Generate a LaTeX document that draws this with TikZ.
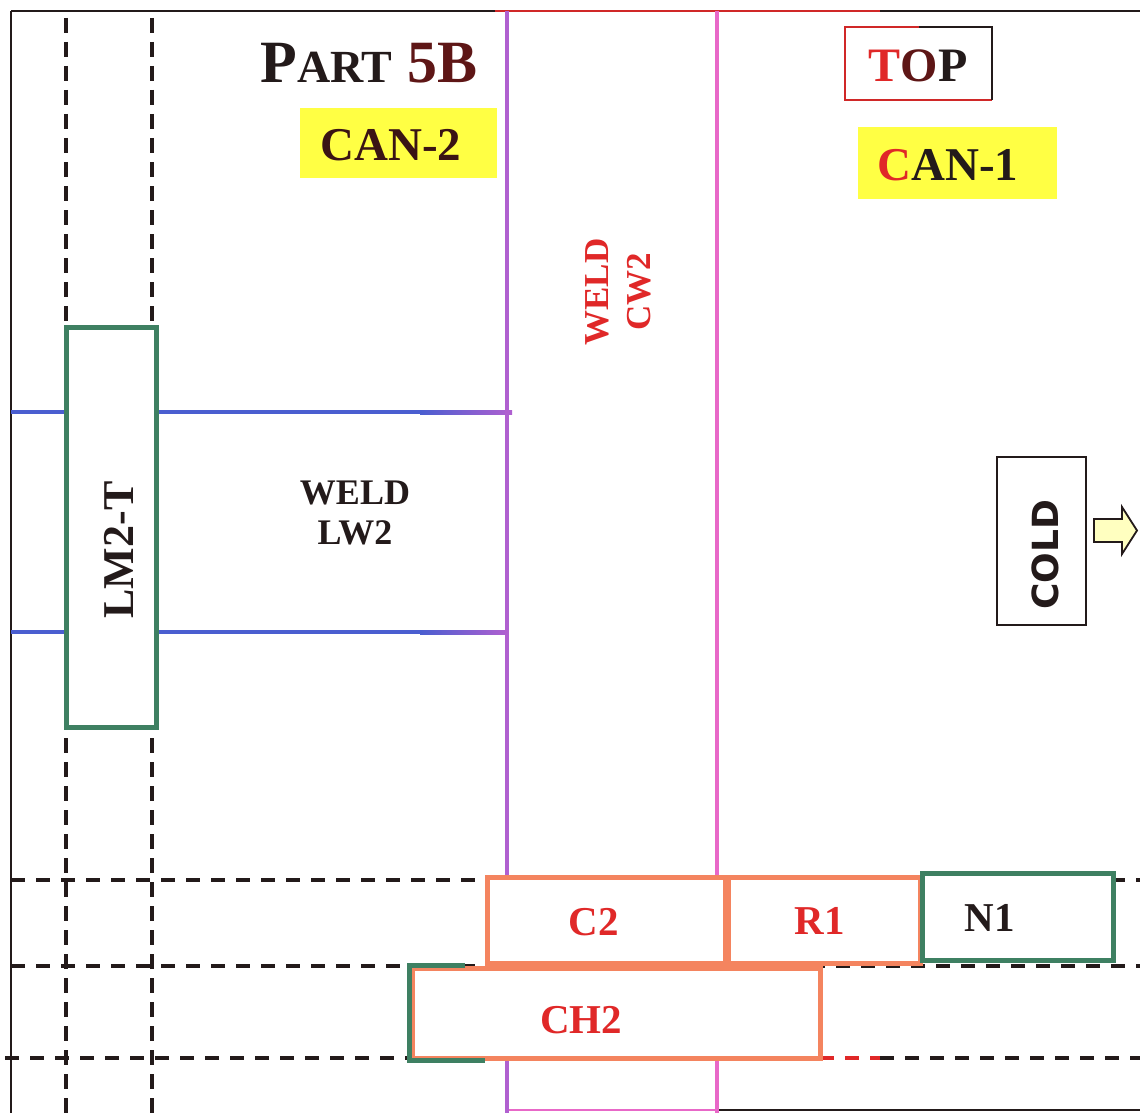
\documentclass[tikz,border=0pt]{standalone}
\usepackage{fontspec}
\setmainfont{Liberation Serif}
\newfontfamily\coldfont{DejaVu Sans}
\definecolor{gbox}{HTML}{3E8062}
\definecolor{obox}{HTML}{F4845F}
\definecolor{bluew}{HTML}{4A5ED0}
\definecolor{purpw}{HTML}{B060D0}
\definecolor{pinkw}{HTML}{E868C8}
\definecolor{ink}{HTML}{231A1A}
\definecolor{inkred}{HTML}{5E1616}
\definecolor{inkdark}{HTML}{3A1414}
\definecolor{redtxt}{HTML}{E02828}
\definecolor{ylw}{HTML}{FFFF44}
\definecolor{arrowfill}{HTML}{FFFFC0}
\definecolor{topred}{HTML}{D02828}
\tikzset{
  frameline/.style={line width=2pt, ink},
  griddash/.style={line width=4pt, ink, dash pattern=on 14pt off 11pt},
  vgriddash/.style={line width=4pt, ink, dash pattern=on 15pt off 9pt},
  greenbox/.style={draw=gbox, line width=5pt, fill=white, inner sep=0pt},
  orangebox/.style={draw=obox, line width=5pt, fill=white, inner sep=0pt},
  yellowbox/.style={fill=ylw, draw=none, inner sep=0pt},
  lbl/.style={font=\bfseries\fontsize{41}{41}\selectfont, inner sep=0pt},
  weldline/.style={line width=4pt}
}
\begin{document}
\begin{tikzpicture}[x=1pt,y=-1pt]
\useasboundingbox (0,0) rectangle (1140,1113);
\fill[white] (0,0) rectangle (1140,1113);

% frame
\draw[frameline] (11,11) -- (11,1113);
\draw[frameline] (11,11) -- (495,11);
\draw[line width=2pt, topred] (495,11) -- (880,11);
\draw[frameline] (880,11) -- (1140,11);
\draw[line width=2pt, pinkw] (509,1110) -- (717,1110);
\draw[frameline] (717,1110) -- (1140,1110);

% vertical dashed grid lines
\draw[vgriddash] (66,18) -- (66,1113);
\draw[vgriddash] (152,18) -- (152,1113);

% horizontal dashed grid lines
\draw[griddash] (11,880) -- (1140,880);
\draw[griddash] (11,966) -- (1140,966);
\draw[griddash] (5,1058) -- (820,1058);
\draw[line width=4pt, redtxt, dash pattern=on 14pt off 11pt] (820,1058) -- (880,1058);
\draw[griddash] (880,1058) -- (1140,1058);

% longitudinal weld lines (blue fading to purple)
\draw[weldline, bluew] (11,412) -- (421,412);
\shade[left color=bluew, right color=purpw] (420,410) rectangle (512,414);
\draw[weldline, bluew] (11,632) -- (421,632);
\shade[left color=bluew, right color=purpw] (420,630) rectangle (507,634);

% circumferential weld lines
\draw[weldline, purpw] (507,11) -- (507,1113);
\draw[weldline, pinkw] (717,11) -- (717,1113);

% LM2-T
\node[greenbox, minimum width=90pt, minimum height=400pt] (lm2box) at (111,527) {};
\node[lbl, font=\bfseries\fontsize{44}{44}\selectfont, rotate=90, text=ink] (lm2lbl) at (119,550) {LM2-T};

% weld labels
\node[font=\bfseries\fontsize{36}{40}\selectfont, align=center, text=ink, inner sep=0pt] (lw2) at (355,513) {WELD\\LW2};
\node[font=\bfseries\fontsize{35}{42}\selectfont, align=center, text=redtxt, rotate=90, inner sep=0pt] (cw2) at (618,292) {WELD\\CW2};

% title
\node[inner sep=0pt, anchor=base, text=ink] (title) at (369,83)
  {\bfseries{\fontsize{60}{60}\selectfont P}{\fontsize{46}{46}\selectfont ART}\fontsize{60}{60}\selectfont\ {\color{inkred}5B}};

% CAN-2
\node[yellowbox, minimum width=197pt, minimum height=70pt] (can2box) at (398.5,143) {};
\node[inner sep=0pt, text=inkdark, font=\bfseries\fontsize{47}{47}\selectfont] (can2) at (391,145) {CAN-2};

% TOP
\node[draw=none, fill=white, minimum width=147pt, minimum height=73pt, inner sep=0pt] (topbox) at (918.5,63.5) {};
\draw[line width=2pt, topred] (topbox.north) -- (topbox.north west) -- (topbox.south west) -- (topbox.south east);
\draw[line width=2pt, ink] (topbox.south east) -- (topbox.north east) -- (topbox.north);
\node[inner sep=0pt, font=\bfseries\fontsize{48}{48}\selectfont] (toplbl) at (918,66) {{\color{redtxt}T}{\color{inkred}O}{\color{ink}P}};

% CAN-1
\node[yellowbox, minimum width=199pt, minimum height=72pt] (can1box) at (957.5,163) {};
\node[inner sep=0pt, font=\bfseries\fontsize{47}{47}\selectfont, text=ink] (can1) at (948,165) {{\color{redtxt}C}AN-1};

% COLD
\node[draw=ink, line width=2pt, fill=white, minimum width=89pt, minimum height=168pt, inner sep=0pt] (coldbox) at (1041.5,541) {};
\node[inner sep=0pt, rotate=90, text=ink, font=\coldfont\bfseries\fontsize{36}{36}\selectfont] (cold) at (1045,555) {COLD};
\draw[line width=1.8pt, ink, fill=arrowfill]
  ([xshift=7pt]coldbox.east |- 0,519) -- (1122,519) -- (1122,507) -- (1137,530.5) -- (1122,554) -- (1122,542) -- ([xshift=7pt]coldbox.east |- 0,542) -- cycle;

% bottom component boxes
\node[orangebox, minimum width=408pt, minimum height=90pt] (ch2box) at (616,1013) {};
\draw[line width=5pt, gbox] ([xshift=55pt]ch2box.north west) -- (ch2box.north west) -- (ch2box.south west) -- ([xshift=75pt]ch2box.south west);
\node[orangebox, minimum width=238pt, minimum height=86pt] (c2box) at (606,920) {};
\node[orangebox, minimum width=192pt, minimum height=86pt] (r1box) at (824,920) {};
\node[greenbox, minimum width=191pt, minimum height=87pt] (n1box) at (1017.5,916.5) {};

\node[lbl, text=redtxt] (c2) at (594,922) {C2};
\node[lbl, text=redtxt] (r1) at (820,921) {R1};
\node[lbl, text=ink] (n1) at (990,918) {N1};
\node[lbl, text=redtxt] (ch2) at (581,1020) {CH2};
\end{tikzpicture}
\end{document}
